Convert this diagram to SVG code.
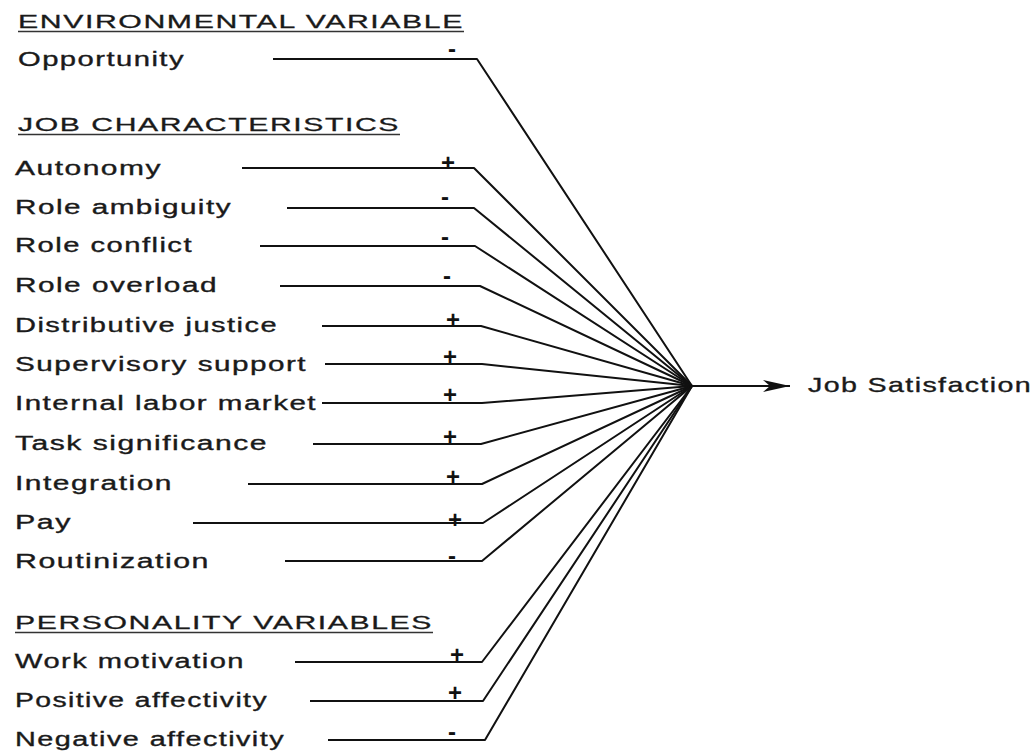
<svg xmlns="http://www.w3.org/2000/svg" width="1036" height="751" viewBox="0 0 1036 751">
<defs>
<style>
.lbl{font-family:"Liberation Sans",Arial,sans-serif;font-size:20px;fill:#1a1a1a;stroke:#1a1a1a;stroke-width:0.35;letter-spacing:1px}
.hdr{font-family:"Liberation Sans",Arial,sans-serif;font-size:19px;fill:#1a1a1a;stroke:#1a1a1a;stroke-width:0.3;letter-spacing:1px}
.ul{stroke:#333;stroke-width:1.5}
.c{fill:none;stroke:#111;stroke-width:2;stroke-linejoin:round}
.sg{font-family:"Liberation Sans",Arial,sans-serif;font-size:24px;font-weight:bold;fill:#111;text-anchor:middle}
</style>
<marker id="ah" markerUnits="userSpaceOnUse" markerWidth="28" markerHeight="14" refX="27" refY="6" orient="auto">
<path d="M0,0 L27,6 L0,12 L7,6 z" fill="#111"/>
</marker>
</defs>
<rect width="1036" height="751" fill="#fff"/>

<g id="header-environmental">
<text class="hdr" x="18" y="28" textLength="446" lengthAdjust="spacingAndGlyphs">ENVIRONMENTAL VARIABLE</text>
<line class="ul" x1="18" y1="31.5" x2="464" y2="31.5"/>
</g>
<g id="header-job">
<text class="hdr" x="18" y="131" textLength="382" lengthAdjust="spacingAndGlyphs">JOB CHARACTERISTICS</text>
<line class="ul" x1="18" y1="134.5" x2="400" y2="134.5"/>
</g>
<g id="header-personality">
<text class="hdr" x="15" y="629" textLength="418" lengthAdjust="spacingAndGlyphs">PERSONALITY VARIABLES</text>
<line class="ul" x1="15" y1="632.5" x2="433" y2="632.5"/>
</g>

<g id="n-opportunity"><text class="lbl" x="18" y="66" textLength="167" lengthAdjust="spacingAndGlyphs">Opportunity</text></g>
<g id="n-autonomy"><text class="lbl" x="15" y="175" textLength="147" lengthAdjust="spacingAndGlyphs">Autonomy</text></g>
<g id="n-role-ambiguity"><text class="lbl" x="15" y="214" textLength="217" lengthAdjust="spacingAndGlyphs">Role ambiguity</text></g>
<g id="n-role-conflict"><text class="lbl" x="15" y="252" textLength="178" lengthAdjust="spacingAndGlyphs">Role conflict</text></g>
<g id="n-role-overload"><text class="lbl" x="15" y="292" textLength="203" lengthAdjust="spacingAndGlyphs">Role overload</text></g>
<g id="n-distributive-justice"><text class="lbl" x="15" y="332" textLength="263" lengthAdjust="spacingAndGlyphs">Distributive justice</text></g>
<g id="n-supervisory-support"><text class="lbl" x="15" y="371" textLength="292" lengthAdjust="spacingAndGlyphs">Supervisory support</text></g>
<g id="n-internal-labor-market"><text class="lbl" x="15" y="410" textLength="302" lengthAdjust="spacingAndGlyphs">Internal labor market</text></g>
<g id="n-task-significance"><text class="lbl" x="15" y="450" textLength="253" lengthAdjust="spacingAndGlyphs">Task significance</text></g>
<g id="n-integration"><text class="lbl" x="15" y="490" textLength="158" lengthAdjust="spacingAndGlyphs">Integration</text></g>
<g id="n-pay"><text class="lbl" x="15" y="529" textLength="57" lengthAdjust="spacingAndGlyphs">Pay</text></g>
<g id="n-routinization"><text class="lbl" x="15" y="568" textLength="195" lengthAdjust="spacingAndGlyphs">Routinization</text></g>
<g id="n-work-motivation"><text class="lbl" x="15" y="668" textLength="230" lengthAdjust="spacingAndGlyphs">Work motivation</text></g>
<g id="n-positive-affectivity"><text class="lbl" x="15" y="707" textLength="253" lengthAdjust="spacingAndGlyphs">Positive affectivity</text></g>
<g id="n-negative-affectivity"><text class="lbl" x="15" y="746" textLength="270" lengthAdjust="spacingAndGlyphs">Negative affectivity</text></g>
<g id="n-job-satisfaction"><text class="lbl" x="808" y="392" textLength="224" lengthAdjust="spacingAndGlyphs" style="font-size:21px">Job Satisfaction</text></g>

<g id="connectors">
<polyline class="c" points="273,59 477,59 692,386"/>
<polyline class="c" points="242,168 474,168 692,386"/>
<polyline class="c" points="287,208 474,208 692,386"/>
<polyline class="c" points="260,246 475,246 692,386"/>
<polyline class="c" points="280,286 480,286 692,386"/>
<polyline class="c" points="322,326 481,326 692,386"/>
<polyline class="c" points="325,364 482,364 692,386"/>
<polyline class="c" points="322,403 482,403 692,386"/>
<polyline class="c" points="313,444 481,444 692,386"/>
<polyline class="c" points="248,484 482,484 692,386"/>
<polyline class="c" points="193,523 483,523 692,386"/>
<polyline class="c" points="285,561 482,561 692,386"/>
<polyline class="c" points="295,662 482,662 692,386"/>
<polyline class="c" points="310,701 483,701 692,386"/>
<polyline class="c" points="328,740 485,740 692,386"/>
<line class="c" x1="692" y1="386" x2="790" y2="386" marker-end="url(#ah)"/>
<g id="signs">
<text class="sg" x="452" y="57">-</text>
<text class="sg" x="448" y="171">+</text>
<text class="sg" x="445" y="205">-</text>
<text class="sg" x="445" y="245">-</text>
<text class="sg" x="447" y="284">-</text>
<text class="sg" x="453" y="328">+</text>
<text class="sg" x="450" y="365">+</text>
<text class="sg" x="450" y="403">+</text>
<text class="sg" x="450" y="445">+</text>
<text class="sg" x="453" y="485">+</text>
<text class="sg" x="455" y="528">+</text>
<text class="sg" x="452" y="564">-</text>
<text class="sg" x="457" y="663">+</text>
<text class="sg" x="455" y="701">+</text>
<text class="sg" x="452" y="740">-</text>
</g>
</g>
</svg>
